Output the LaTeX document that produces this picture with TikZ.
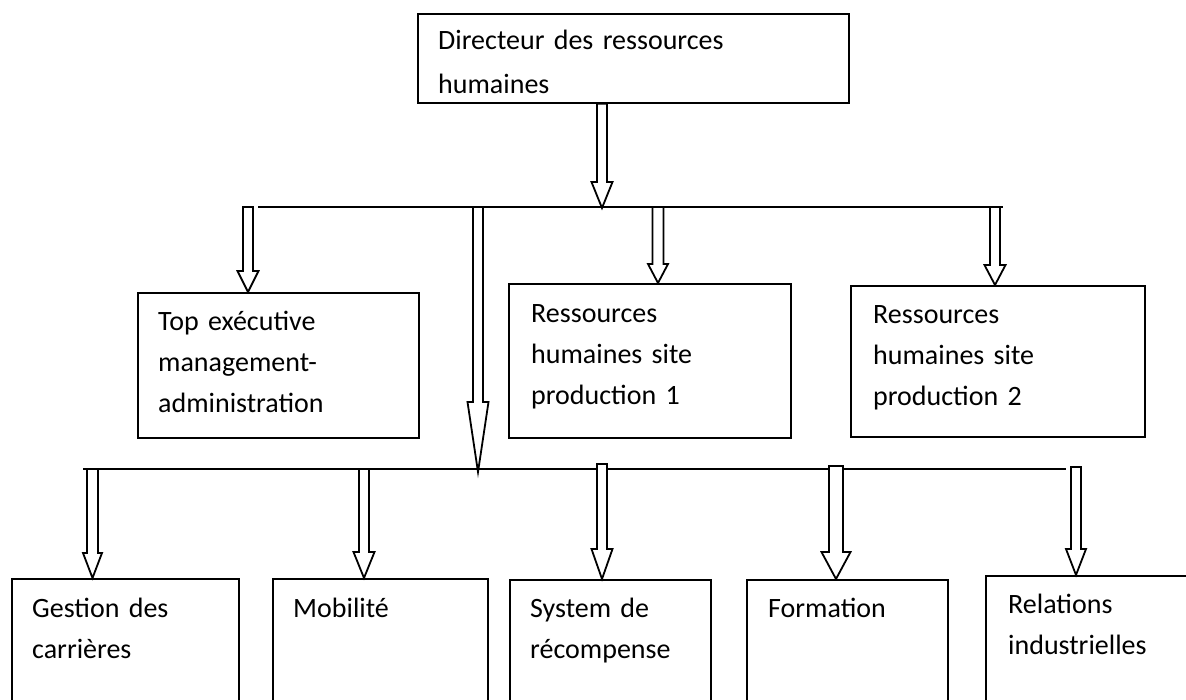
\documentclass[tikz,border=0pt]{standalone}
\usepackage{fontspec}
\setmainfont{Carlito}
\usepackage{tikz}
\usetikzlibrary{calc}

\begin{document}
\begin{tikzpicture}[x=1pt,y=-1pt,
	box/.style={draw, line width=1.8pt, inner sep=0pt, anchor=north west},
	lbl/.style={inner sep=0pt, anchor=base west, text width=320pt, align=left, font=\fontsize{28pt}{41pt}\selectfont},
	hollow/.style n args={3}{draw, line width=1.8pt, fill=white,
		to path={let \p1=(\tikztostart), \p2=(\tikztotarget) in
			(\x1-#1,\y1) -- (\x1-#1,\y2+#3) -- (\x1-#2,\y2+#3) -- (\x1,\y2) -- (\x1+#2,\y2+#3) -- (\x1+#1,\y2+#3) -- (\x1+#1,\y1) -- cycle}}]
	\useasboundingbox (0,0) rectangle (1186,699);
	\clip (0,0) rectangle (1186,699);
	\node[box, minimum width=431pt, minimum height=89pt] (dir) at (417,13) {};
	\node[lbl, font=\fontsize{28pt}{44pt}\selectfont] (dirtxt) at ([shift={(21,36)}]dir.north west) {Directeur des ressources\\humaines};
	\node[box, minimum width=281pt, minimum height=145pt] (tea) at (137,292) {};
	\node[lbl] (teatxt) at ([shift={(21,38)}]tea.north west) {Top exécutive\\management-\\administration};
	\node[box, minimum width=282pt, minimum height=154pt] (rhp1) at (508,283) {};
	\node[lbl] (rhp1txt) at ([shift={(23,39)}]rhp1.north west) {Ressources\\humaines site\\production 1};
	\node[box, minimum width=294pt, minimum height=151pt] (rhp2) at (850,285) {};
	\node[lbl] (rhp2txt) at ([shift={(23,38)}]rhp2.north west) {Ressources\\humaines site\\production 2};
	\node[box, minimum width=227pt, minimum height=150pt] (gdc) at (11,578) {};
	\node[lbl] (gdctxt) at ([shift={(21,39)}]gdc.north west) {Gestion des\\carrières};
	\node[box, minimum width=215pt, minimum height=150pt] (mob) at (272,578) {};
	\node[lbl] (mobtxt) at ([shift={(21,39)}]mob.north west) {Mobilité};
	\node[box, minimum width=201pt, minimum height=150pt] (sys) at (509,579) {};
	\node[lbl] (systxt) at ([shift={(21,38)}]sys.north west) {System de\\récompense};
	\node[box, minimum width=201pt, minimum height=150pt] (form) at (746,579) {};
	\node[lbl] (formtxt) at ([shift={(22,38)}]form.north west) {Formation};
	\node[box, minimum width=230pt, minimum height=150pt] (rel) at (985,575) {};
	\node[lbl] (reltxt) at ([shift={(23,38)}]rel.north west) {Relations\\industrielles};
	\coordinate (upl) at (258,207);
	\coordinate (upr) at (1003,207);
	\coordinate (lowl) at (83,469);
	\coordinate (lowr) at (1066,469);
	\draw[line width=1.8pt] (upl) -- (upr);
	\draw[line width=1.8pt] (lowl) -- (lowr);
	\coordinate (d0) at (602,208);
	\coordinate (u1) at (248,207);
	\coordinate (u2) at (478,207);
	\coordinate (u3) at (658,207);
	\coordinate (u4) at (995,207);
	\coordinate (w1) at (92.5,469);
	\coordinate (w2) at (364,469);
	\coordinate (w3) at (602,464);
	\coordinate (w4) at (836,466);
	\coordinate (w5) at (1076,467);
	\draw[hollow={5pt}{10.5pt}{26pt}] (d0 |- dir.south) to (d0);
	\draw[hollow={5pt}{10.5pt}{21pt}] (u1) to (u1 |- tea.north);
	\draw[hollow={5pt}{10.5pt}{70pt}] (u2) to ([yshift=-3pt]u2 |- lowl);
	\draw[hollow={5.5pt}{10pt}{19pt}] (u3) to (u3 |- rhp1.north);
	\draw[hollow={5pt}{10.5pt}{20pt}] (u4) to (u4 |- rhp2.north);
	\draw[hollow={5.5pt}{9.5pt}{25pt}] (w1) to (w1 |- gdc.north);
	\draw[hollow={5pt}{10.5pt}{26pt}] (w2) to (w2 |- mob.north);
	\draw[hollow={5pt}{10.5pt}{30pt}] (w3) to (w3 |- sys.north);
	\draw[hollow={7pt}{14.5pt}{27pt}] (w4) to (w4 |- form.north);
	\draw[hollow={5pt}{10pt}{26pt}] (w5) to (w5 |- rel.north);
\end{tikzpicture}
\end{document}
